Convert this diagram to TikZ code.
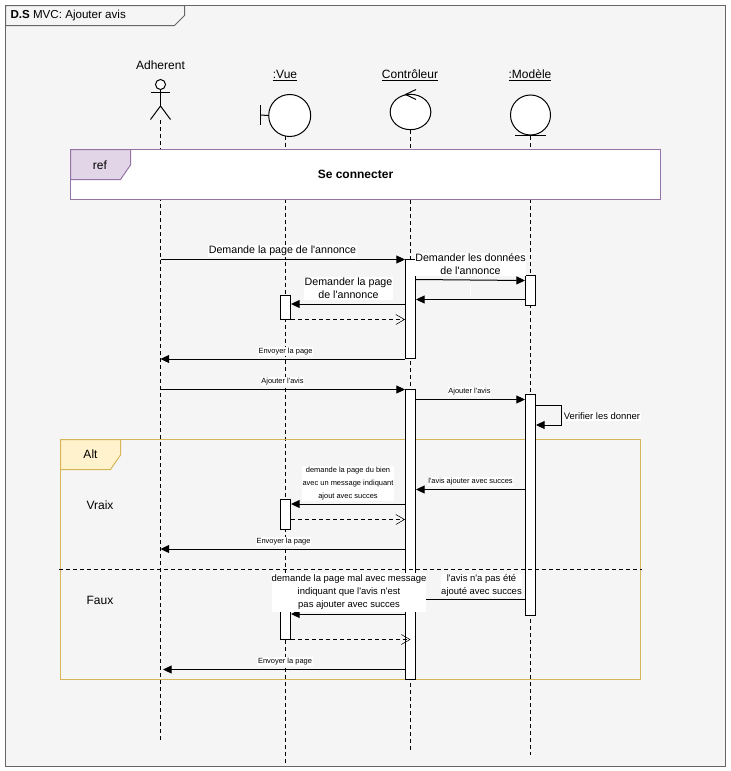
\documentclass[tikz,border=0pt]{standalone}
\usepackage{fontspec}
\defaultfontfeatures[\rmfamily]{}
\setmainfont{Liberation Sans}
\usetikzlibrary{arrows.meta, positioning, shapes.geometric}
\definecolor{myframe}{RGB}{102, 102, 102}
\definecolor{mygrey}{RGB}{245, 245, 245}
\definecolor{mypurple}{RGB}{150, 115, 166}
\definecolor{mylilac}{RGB}{225, 213, 231}
\definecolor{mygold}{RGB}{214, 182, 86}
\definecolor{mycream}{RGB}{255, 242, 204}

\begin{document}
\begin{tikzpicture}[
    x=0.75pt, y=-0.75pt,
    line width=0.75pt,
    lifeline/.style={dashed, dash pattern=on 3pt off 2.25pt},
    head/.style={circle, draw=black, fill=white, inner sep=0pt},
    activation/.style={rectangle, draw=black, fill=white, inner sep=0pt, minimum width=7.5pt},
    title/.style={inner sep=0pt, font=\fontsize{9}{9.75}\selectfont, text=black},
    msglabel/.style={fill=white, inner sep=0.5pt, align=center, font=\fontsize{8}{9.75}\selectfont},
    midlabel/.style={fill=white, inner sep=0.5pt, align=center, font=\fontsize{7.1}{9.75}\selectfont},
    smalllabel/.style={fill=white, inner sep=0.5pt, align=center, font=\fontsize{5.6}{9.75}\selectfont},
    arrow/.style={-{Triangle[length=6.5pt,width=6pt]}},
    reply/.style={dashed, dash pattern=on 3pt off 2.25pt, -{Straight Barb[length=6.5pt,width=7.5pt,line width=0.4pt]}}
]
\useasboundingbox (0,0) rectangle (731,771);

% Frame
\draw[draw=myframe, fill=mygrey] (5.5,5.5) rectangle (725.5,766);
\draw[draw=myframe, fill=mygrey] (5.5,5.5) -- (184.5,5.5) -- (184.5,15.5) -- (174.5,25.5) -- (5.5,25.5) -- cycle;
\node[title, anchor=west, font=\fontsize{8.7}{9.75}\selectfont] (frame_title) at (10,15.5) {\textbf{D.S} MVC: Ajouter avis};

% Heads
\node[head, minimum size=7.5pt] (adherent) at (160.5,84.5) {};
\node[title] (adherent_name) at (160.5,65) {Adherent};
\node[head, minimum size=31.5pt] (vue) at (289.7,115.5) {};
\node[title, anchor=base] (vue_name) at (285,78.5) {\underline{:Vue}};
\node[head, ellipse, minimum width=30.5pt, minimum height=26.5pt] (ctrl) at (410.5,112) {};
\node[title, anchor=base] (ctrl_name) at (410,78.5) {\underline{Contrôleur}};
\node[head, minimum size=30pt] (modele) at (530.5,115) {};
\node[title, anchor=base] (modele_name) at (530,78.5) {\underline{:Modèle}};

% Actor and stereotypes
\coordinate (hips) at (160.5,106);
\coordinate (adherent_end) at (160.5,740);
\draw (adherent.south) -- (hips);
\draw (151,92.5) -- (170,92.5);
\draw (150.5,119.5) -- (hips) -- (170.5,119.5);
\draw (260.5,105) -- (260.5,125);
\draw (260.5,115) -- (vue.west);
\draw (416,89.5) -- (405.5,94.5) -- (416,99.5);
\draw (515,135.5) -- (545.5,135.5);

% Lifelines
\coordinate (adherent_start) at (160.5,120);
\coordinate (vue_end) at (285.5,763);
\coordinate (ctrl_end) at (410.5,750);
\coordinate (modele_end) at (530.5,755);
\draw[lifeline] (adherent_start) -- (adherent_end);
\draw[lifeline] (285.5,135.5) -- (vue_end);
\draw[lifeline] (410.5,130) -- (ctrl_end);
\draw[lifeline] (530.5,136) -- (modele_end);

% Ref
\draw[draw=mypurple, fill=white] (70.5,149.5) rectangle (660.5,199.5);
\draw[draw=mypurple, fill=mylilac] (70.5,149.5) -- (130.5,149.5) -- (130.5,165) -- (120.5,179.5) -- (70.5,179.5) -- cycle;
\node[title] (ref_tag) at (100,165) {ref};
\node[title, font=\fontsize{9}{9.75}\selectfont\bfseries] (ref_text) at (355.5,174.5) {Se connecter};

% Alt
\draw[draw=mygold] (60.5,439.5) rectangle (640.5,679.5);
\draw[draw=mygold, fill=mycream] (60.5,439.5) -- (120.5,439.5) -- (120.5,455) -- (110.5,469.5) -- (60.5,469.5) -- cycle;
\node[title] (alt_tag) at (90.5,454.5) {Alt};
\node[title] (vraix) at (100,505) {Vraix};
\node[title] (faux) at (100,600) {Faux};

% Activations
\node[activation, minimum height=74.6pt] (ctrl_a) at (410.5,309.25) {};
\node[activation, minimum height=217.5pt] (ctrl_b) at (410.5,534.5) {};
\node[activation, minimum height=22.5pt] (modele_a) at (530.5,290) {};
\node[activation, minimum height=165.4pt] (modele_b) at (530.5,505.25) {};
\node[activation, minimum height=18pt] (vue_a) at (285.5,307.5) {};
\node[activation, minimum height=22.5pt] (vue_b) at (285.5,514.5) {};
\node[activation, minimum height=22.5pt] (vue_c) at (285.5,624.5) {};

% Rows
\foreach \rowname/\rowy in {a/259.5, b/279.5, c/280.5, d/299.5, e/304, f/319.5, g/359, h/389.5, i/399.5, j/405, k/425, l/489.5, m/504, n/519.5, o/549, p/599, q/614, r/639.5, s/669.5}
    \coordinate (row\rowname) at (0,\rowy);

% First exchange
\draw[arrow] (adherent_start |- rowa) -- (ctrl_a.west |- rowa);
\node[msglabel] at (282.5,251) {Demande la page de l'annonce};
\draw[arrow] (ctrl_a.east |- rowb) -- (modele_a.west |- rowc);
\node[msglabel] at (470.5,264.5) {Demander les données\\de l'annonce};
\draw[arrow] (modele_a.west |- rowd) -- (ctrl_a.east |- rowd);
\node[fill=white, inner sep=0pt, minimum width=0.6pt, minimum height=9pt] (blank) at (470.5,290) {};
\draw[arrow] (ctrl_a.west |- rowe) -- (vue_a.east |- rowe);
\node[msglabel] at (348.5,288.5) {Demander la page\\de l'annonce};
\draw[reply] (vue_a.east |- rowf) -- (ctrl_a.west |- rowf);
\draw[arrow] (ctrl_a.west |- rowg) -- (adherent_start |- rowg);
\node[smalllabel] at (285.5,351.5) {Envoyer la page};

% Second exchange
\draw[arrow] (adherent_start |- rowh) -- (ctrl_b.west |- rowh);
\node[smalllabel] at (282.5,381.5) {Ajouter l'avis};
\draw[arrow] (ctrl_b.east |- rowi) -- (modele_b.west |- rowi);
\node[smalllabel] at (469.5,391.5) {Ajouter l'avis};
\draw[arrow] (modele_b.east |- rowj) -- ++(18.75pt,0) |- (modele_b.east |- rowk);
\node[midlabel] at (602,416.5) {Verifier les donner};

% Alt, first case
\draw[arrow] (modele_b.west |- rowl) -- (ctrl_b.east |- rowl);
\node[smalllabel] at (470.5,481.5) {l'avis ajouter avec succes};
\draw[arrow] (ctrl_b.west |- rowm) -- (vue_b.east |- rowm);
\node[smalllabel] at (348,483.5) {demande la page du bien\\avec un message indiquant\\ajout avec succes};
\draw[reply] (vue_b.east |- rown) -- (ctrl_b.west |- rown);
\draw[arrow] (ctrl_b.west |- rowo) -- (adherent_start |- rowo);
\node[smalllabel] at (283.5,541.5) {Envoyer la page};

% Alt, second case
\draw[arrow] (modele_b.west |- rowp) -- (ctrl_b.east |- rowp);
\node[midlabel] at (481.5,585.5) {l'avis n'a pas été\\ajouté avec succes};
\draw[arrow] (ctrl_b.west |- rowq) -- (vue_c.east |- rowq);
\node[midlabel, minimum width=115.5pt, minimum height=29pt, inner sep=0pt] at (349,592.5) {demande la page mal avec message\\indiquant que l'avis n'est\\pas ajouter avec succes};
\draw[reply] (vue_c.east |- rowr) -- (ctrl_b.center |- rowr);
\draw[arrow] (ctrl_b.west |- rows) -- (163,669.5);
\node[smalllabel] at (285,661.5) {Envoyer la page};

% Case separator
\coordinate (sep_left) at (59,569.5);
\coordinate (sep_right) at (642,569.5);
\draw[lifeline] (sep_left) -- (sep_right);

\end{tikzpicture}
\end{document}
